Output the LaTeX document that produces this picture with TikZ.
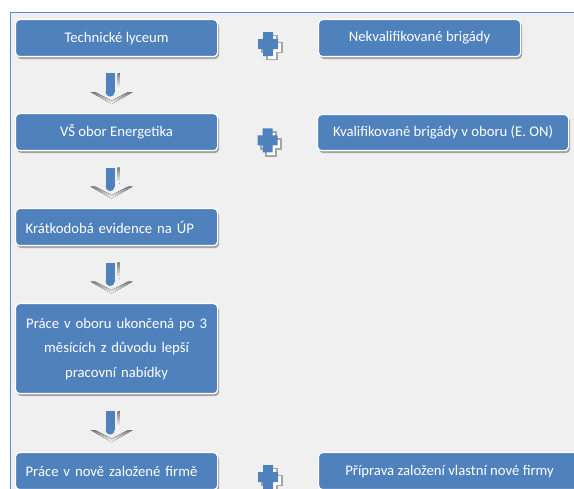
\documentclass[tikz,border=0pt]{standalone}
\usepackage{fontspec}
\setmainfont{Carlito}
\usetikzlibrary{calc,shadows}
\definecolor{boxblue}{HTML}{4F81BD}
\definecolor{bgray}{HTML}{F0F0F0}
\definecolor{shade}{HTML}{A5A5A5}
\definecolor{framecol}{HTML}{5B8FCB}
\begin{document}
\begin{tikzpicture}[x=1pt,y=-1pt,
  box/.style={fill=boxblue, draw=white, line width=1.2pt, rounded corners=4pt,
    text=white, font=\fontsize{14.7}{24.5}\selectfont, minimum height=37pt,
    inner sep=0pt, anchor=north west,
    drop shadow={shadow xshift=1.5pt, shadow yshift=-2.5pt, fill=shade, opacity=1}},
  leftbox/.style={box, minimum width=202pt},
  leftalign/.style={text width=182pt, inner xsep=10pt, align=left},
  plusicon/.pic={
    \filldraw[fill=white, draw=shade, line width=1.8pt, shift={(3.5,3.5)}]
      (-5,-12) -- (5,-12) -- (5,-5) -- (10,-5) -- (10,5) -- (5,5) -- (5,12)
      -- (-5,12) -- (-5,5) -- (-10,5) -- (-10,-5) -- (-5,-5) -- cycle;
    \fill[boxblue]
      (-5,-12) -- (5,-12) -- (5,-5) -- (10,-5) -- (10,5) -- (5,5) -- (5,12)
      -- (-5,12) -- (-5,5) -- (-10,5) -- (-10,-5) -- (-5,-5) -- cycle;
  },
  downarrow/.pic={
    \fill[boxblue] (-6,0) rectangle (3,19);
    \fill[boxblue] (-1.5,19) circle[radius=4.5];
    \fill[shade] (6,0) rectangle (8,16);
    \fill[shade] (-21,19) -- (0,31) -- (21,19) -- (16.5,19) -- (0,27.5) -- (-16.5,19) -- cycle;
  }]
\useasboundingbox (0,0) rectangle (574,489);
\fill[white] (0,0) rectangle (574,489);
\fill[bgray] (10,13) rectangle (580,495);
\draw[framecol, line width=1pt] (10,495) -- (10,13) -- (580,13);

\node[leftbox] (b1) at (15,19) {Technické lyceum};
\node[leftbox] (b2) at (15,113) {VŠ obor Energetika};
\node[leftbox, leftalign] (b3) at (15,208) {Krátkodobá evidence na ÚP};
\node[leftbox, text width=190pt, inner xsep=6pt, align=center, minimum height=90pt] (b4) at (15,303)
  {Práce v oboru ukončená po 3\\ měsících z důvodu lepší\\ pracovní nabídky};
\node[leftbox, leftalign] (b5) at (15,452) {Práce v nově založené firmě};

\node[box, minimum width=202pt] (r1) at (318,19) {Nekvalifikované brigády};
\node[box, minimum width=251pt, minimum height=36pt] (r2) at (317,114) {Kvalifikované brigády v oboru (E. ON)};
\node[box, minimum width=262pt] (r3) at (318,452) {Příprava založení vlastní nové firmy};

\pic at ($(b1.east)!.5!(r1.west)+(0,6)$) {plusicon};
\pic at ($(b2.east)!.5!(r2.west)+(0,8)$) {plusicon};
\pic at ($(b5.east)!.5!(r3.west)+(0,6)$) {plusicon};

\pic at ($(b1.south)!.5!(b2.north)+(-5,-12)$) {downarrow};
\pic at ($(b2.south)!.5!(b3.north)+(-5,-12)$) {downarrow};
\pic at ($(b3.south)!.5!(b4.north)+(-5,-12)$) {downarrow};
\pic at ($(b4.south)!.5!(b5.north)+(-5,-12)$) {downarrow};
\end{tikzpicture}
\end{document}
